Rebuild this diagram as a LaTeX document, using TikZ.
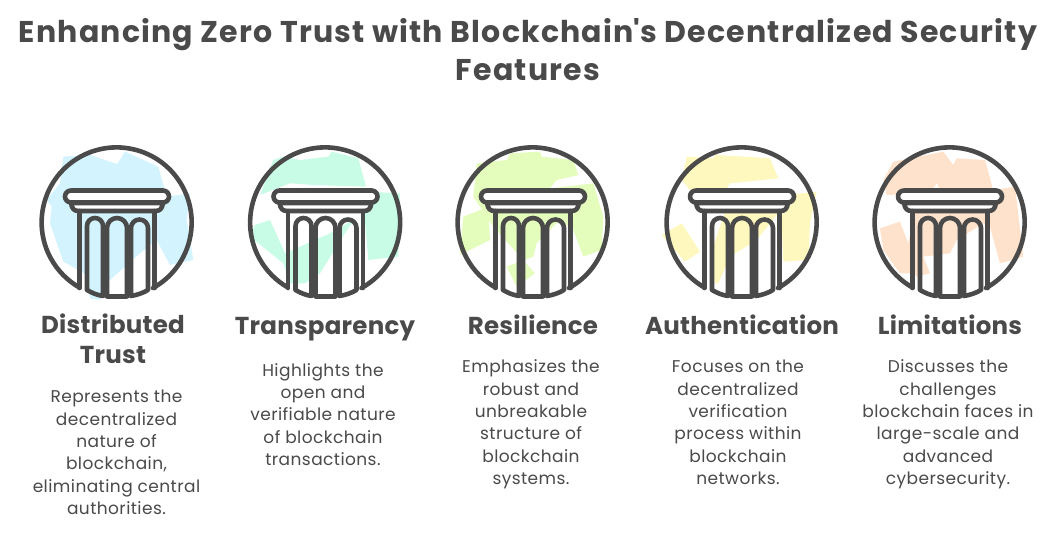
\documentclass[tikz,border=0pt]{standalone}
\usepackage{fontspec}
\setmainfont{Poppins}
\definecolor{ink}{HTML}{4A4A4A}
\definecolor{cblue}{HTML}{D3F3FE}
\definecolor{cmint}{HTML}{C8FCE6}
\definecolor{clime}{HTML}{E5FDBC}
\definecolor{cyel}{HTML}{FEF8BE}
\definecolor{corange}{HTML}{FFE2CB}
\newcommand{\pillar}[1]{%
\begin{scope}[shift={(#1,318)},pline/.style={draw=ink,line width=4.6pt,line cap=round,line join=round}]
\draw[pline] (36,-65) arc[start angle=-61,end angle=240,radius=75];
\draw[pline,fill=white] (-46,20) .. controls (-45,14) and (-43,12) .. (-38,12) -- (38,12) .. controls (43,12) and (45,14) .. (46,20) -- cycle;
\draw[pline,fill=white] (-46,32.5) -- (46,32.5) arc[start angle=90,end angle=-90,radius=6] -- (-46,20.5) arc[start angle=270,end angle=90,radius=6] -- cycle;
\draw[pline] (-37.5,12) -- (-37.5,-65);
\draw[pline] (37.5,12) -- (37.5,-65);
\draw[pline] (-30,-67) -- (-30,-3) arc[start angle=180,end angle=0,radius=8] -- (-14,-73) .. controls (-20,-72) and (-25,-70) .. (-30,-67);
\draw[pline] (-10,-73.5) -- (-10,-5) arc[start angle=180,end angle=0,radius=10] -- (10,-73.5) -- cycle;
\draw[pline] (14,-73) -- (14,-5) arc[start angle=180,end angle=0,radius=8.5] -- (31,-67) .. controls (26,-70) and (20,-72) .. (14,-73);
\end{scope}}
\tikzset{
 hd/.style={text=ink,font=\fontsize{24.5}{30}\selectfont\bfseries\addfontfeature{LetterSpace=1},align=center,anchor=base,inner sep=0pt},
 ds/.style={text=ink,font=\fontsize{17}{22.3}\selectfont\addfontfeature{LetterSpace=2.5},align=center,anchor=base,inner sep=0pt},
 ttl/.style={text=ink,font=\fontsize{30}{38}\selectfont\bfseries\addfontfeature{LetterSpace=4},align=center,inner sep=0pt}
}
\begin{document}
\begin{tikzpicture}[x=1pt,y=1pt]
\useasboundingbox (0,0) rectangle (1053,541);
\fill[white] (0,0) rectangle (1053,541);
% colour patches
\begin{scope}[shift={(30,401)},x=0.3333pt,y=-0.3333pt]
\fill[cblue] (100,50)--(180,45)--(262,72)--(285,35)--(385,80)--(410,170)--(480,160)--(470,240)--(490,360)--(420,375)--(380,300)--(330,340)--(240,420)--(210,480)--(180,475)--(170,405)--(100,365)--(60,250)--(65,200)--(50,180)--(90,130)--cycle;
\end{scope}
\begin{scope}[shift={(240,401)},x=0.3333pt,y=-0.3333pt]
\fill[cmint] (100,60)--(130,50)--(180,60)--(265,50)--(275,35)--(355,55)--(378,140)--(220,135)--(150,130)--(60,165)--cycle;
\fill[cmint] (378,155)--(480,160)--(480,240)--(475,350)--(385,360)--(375,240)--cycle;
\fill[cmint] (30,290)--(45,255)--(90,240)--(135,340)--(270,280)--(340,240)--(240,400)--(195,430)--(150,430)--(130,370)--cycle;
\fill[clime] (710,70)--(800,60)--(810,40)--(900,35)--(905,50)--(1000,60)--(1015,105)--(950,120)--(930,145)--(1060,130)--(1090,230)--(1085,330)--(1030,350)--(1000,270)--(960,240)--(890,310)--(880,350)--(800,380)--(830,440)--(885,400)--(760,260)--(700,170)--cycle;
\fill[clime] (670,230)--(745,200)--(750,300)--(660,345)--cycle;
\end{scope}
\begin{scope}[shift={(650,401)},x=0.3333pt,y=-0.3333pt]
\fill[cyel] (110,50)--(190,55)--(195,45)--(285,50)--(360,55)--(385,115)--(240,130)--(230,145)--(120,150)--(95,120)--cycle;
\fill[cyel] (370,170)--(500,155)--(480,250)--(475,360)--(400,365)--(395,240)--(380,225)--(320,300)--(240,350)--(205,430)--(195,430)--(180,350)--(230,200)--cycle;
\fill[cyel] (35,285)--(95,250)--(150,335)--(105,365)--cycle;
\fill[corange] (730,65)--(880,35)--(910,75)--(920,55)--(1005,60)--(1030,150)--(880,165)--(860,130)--(840,160)--(710,165)--(700,120)--cycle;
\fill[corange] (1030,150)--(1095,140)--(1120,350)--(1050,370)--(1020,260)--(1000,250)--(920,300)--(900,340)--(820,350)--(840,400)--(800,410)--(765,350)--(800,200)--cycle;
\fill[corange] (690,265)--(750,245)--(790,350)--(800,400)--(750,400)--(700,330)--cycle;
\end{scope}
% pillars
\pillar{117}
\pillar{325.5}
\pillar{533}
\pillar{742}
\pillar{950}
% title
\node[ttl] (title) at (528,491) {Enhancing Zero Trust with Blockchain\textquotesingle s Decentralized Security\\Features};
% headings
\node[hd] (h1) at (113,177) {Distributed\\Trust};
\node[hd] (h2) at (325,206) {Transparency};
\node[hd] (h3) at (533,206) {Resilience};
\node[hd] (h4) at (742,206) {Authentication};
\node[hd] (h5) at (950,206) {Limitations};
% descriptions
\node[ds] (d1) at (116.5,26.5) {Represents the\\decentralized\\nature of\\blockchain,\\eliminating central\\authorities.};
\node[ds] (d2) at (323,75.5) {Highlights the\\open and\\verifiable nature\\of blockchain\\transactions.};
\node[ds] (d3) at (531,56.5) {Emphasizes the\\robust and\\unbreakable\\structure of\\blockchain\\systems.};
\node[ds] (d4) at (738,56.5) {Focuses on the\\decentralized\\verification\\process within\\blockchain\\networks.};
\node[ds] (d5) at (948,56.5) {Discusses the\\challenges\\blockchain faces in\\large-scale and\\advanced\\cybersecurity.};
\end{tikzpicture}
\end{document}
